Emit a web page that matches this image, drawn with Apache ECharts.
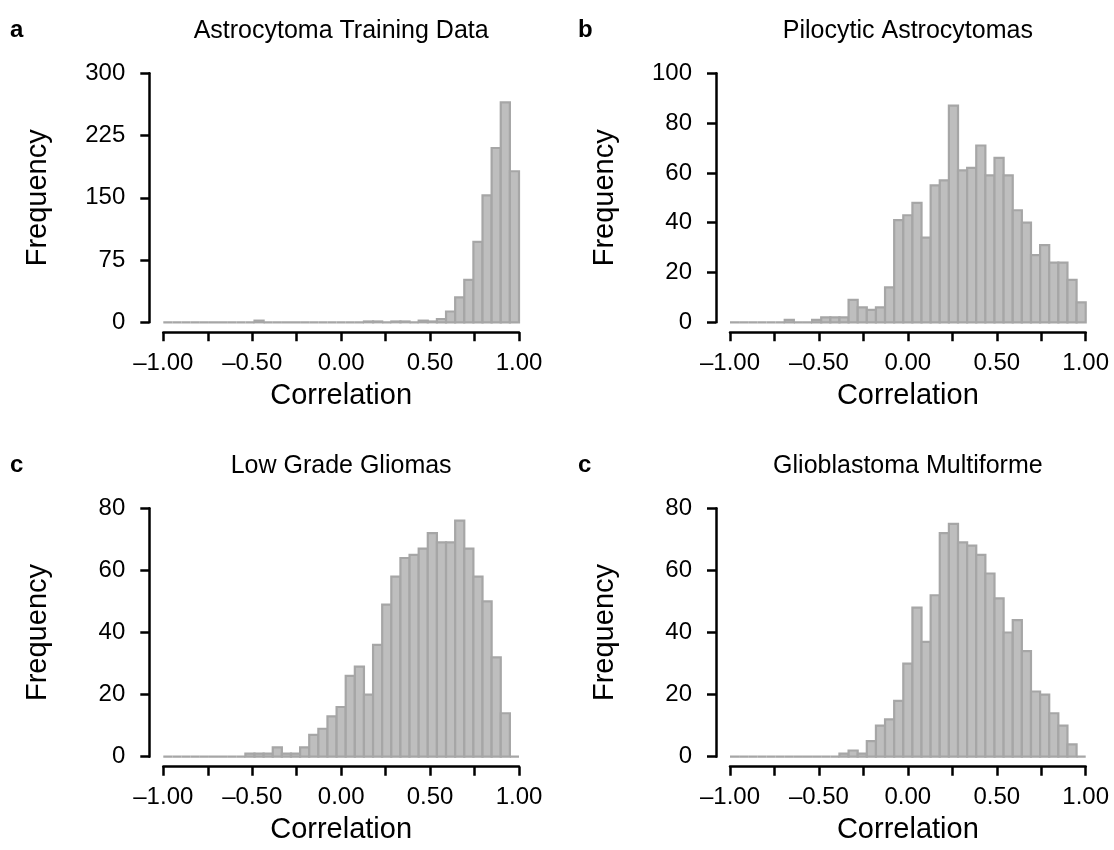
<!DOCTYPE html>
<html><head><meta charset="utf-8">
<script src="https://cdn.jsdelivr.net/npm/echarts@6/dist/echarts.min.js"></script>
<style>html,body{margin:0;padding:0;background:#fff}#c{width:1114px;height:850px}</style>
</head><body><div id="c"></div>
<script>
// ---- data ----
const binCount = 39;            // breaks = seq(-1, 1, length.out = 40)
const xMin = -1, xMax = 1;
const xTickStep = 0.25;
const xTickLabels = {'-1': '\u20131.00', '-0.5': '\u20130.50', '0': '0.00', '0.5': '0.50', '1': '1.00'};
const panelTitles = ['Astrocytoma Training Data', 'Pilocytic Astrocytomas', 'Low Grade Gliomas', 'Glioblastoma Multiforme'];
const panelLetters = ['a', 'b', 'c', 'c'];
const yTicksA = [0, 75, 150, 225, 300];
const yTicksB = [0, 20, 40, 60, 80, 100];
const yTicksC = [0, 20, 40, 60, 80];
const yTicksD = [0, 20, 40, 60, 80];
const countsA = [0,0,0,0,0,0,0,0,0,0, 2,0,0,0,0,0,0,0,0,0, 0,0,1,1,0,1,1,0,2,1, 4,13,30,51,97,153,210,265,182];
const countsB = [0,0,0,0,0,0,1,0,0,1, 2,2,2,9,6,5,6,14,41,43, 48,34,55,57,87,61,62,71,59,66, 59,45,40,27,31,24,24,17,8];
const countsC = [0,0,0,0,0,0,0,0,0,1, 1,1,3,1,1,3,7,9,13,16, 26,29,20,36,49,58,64,65,67,72, 69,69,76,67,58,50,32,14,0];
const countsD = [0,0,0,0,0,0,0,0,0,0, 0,0,1,2,1,5,10,12,18,30, 48,37,52,72,75,69,68,65,59,51, 40,44,34,21,20,14,10,4,0];

// ---- layout ----
const FONT = 'Liberation Sans, Arial, Helvetica, sans-serif';
const panels = [
  {left: 163.3, top: 73.3, h: 249, counts: countsA, yt: yTicksA},
  {left: 730,   top: 73.3, h: 249, counts: countsB, yt: yTicksB},
  {left: 163.3, top: 508.3, h: 248.4, counts: countsC, yt: yTicksC},
  {left: 730,   top: 508.3, h: 248.4, counts: countsD, yt: yTicksD}
];
const W = 355.7;

function binData(counts) {
  const w = (xMax - xMin) / binCount;
  return counts.map((c, k) => [xMin + k * w, xMin + (k + 1) * w, c]);
}

const grid = [], xAxis = [], yAxis = [], series = [], title = [];
panels.forEach((p, i) => {
  grid.push({left: p.left, top: p.top, width: W, height: p.h, outerBoundsMode: 'none', containLabel: false});
  xAxis.push({
    type: 'value', gridIndex: i, min: xMin, max: xMax, interval: xTickStep, offset: 10,
    axisLine: {show: true, onZero: false, lineStyle: {color: '#000', width: 2.5}},
    axisTick: {show: true, length: 9, lineStyle: {color: '#000', width: 2.5}},
    splitLine: {show: false},
    axisLabel: {color: '#000', fontSize: 24, fontFamily: FONT, margin: 19,
      formatter: v => { const k = String(Math.round(v * 100) / 100); return xTickLabels[k] !== undefined ? xTickLabels[k] : ''; }},
    name: 'Correlation', nameLocation: 'middle', nameGap: 49,
    nameTextStyle: {color: '#000', fontSize: 29, fontFamily: FONT}
  });
  yAxis.push({
    type: 'value', gridIndex: i, min: p.yt[0], max: p.yt[p.yt.length - 1], interval: p.yt[1] - p.yt[0], offset: 14,
    axisLine: {show: true, onZero: false, lineStyle: {color: '#000', width: 2.5}},
    axisTick: {show: true, length: 9, lineStyle: {color: '#000', width: 2.5}},
    splitLine: {show: false},
    axisLabel: {color: '#000', fontSize: 24, fontFamily: FONT, margin: 24},
    name: 'Frequency', nameLocation: 'middle', nameGap: 97, nameRotate: 90,
    nameTextStyle: {color: '#000', fontSize: 29, fontFamily: FONT}
  });
  series.push({
    type: 'custom', xAxisIndex: i, yAxisIndex: i, data: binData(p.counts),
    encode: {x: [0, 1], y: 2}, clip: false, silent: true,
    renderItem: function (params, api) {
      const a = api.coord([api.value(0), api.value(2)]);
      const b = api.coord([api.value(1), 0]);
      return {type: 'rect', shape: {x: a[0], y: a[1], width: b[0] - a[0], height: b[1] - a[1]},
        style: {fill: '#bebebe', stroke: '#a6a6a6', lineWidth: 2.2}};
    }
  });
  title.push({text: panelTitles[i], left: p.left + W / 2, top: p.top - 55, padding: 0, textAlign: 'center',
    textStyle: {color: '#000', fontSize: 25, fontWeight: 'normal', fontFamily: FONT}});
  title.push({text: panelLetters[i], left: i % 2 === 0 ? 10 : 578, top: p.top - 55, padding: 0,
    textStyle: {color: '#000', fontSize: 24, fontWeight: 'bold', fontFamily: FONT}});
});

const chart = echarts.init(document.getElementById('c'), null, {renderer: 'canvas'});
chart.setOption({animation: false, backgroundColor: '#fff', title, grid, xAxis, yAxis, series});
</script></body></html>
